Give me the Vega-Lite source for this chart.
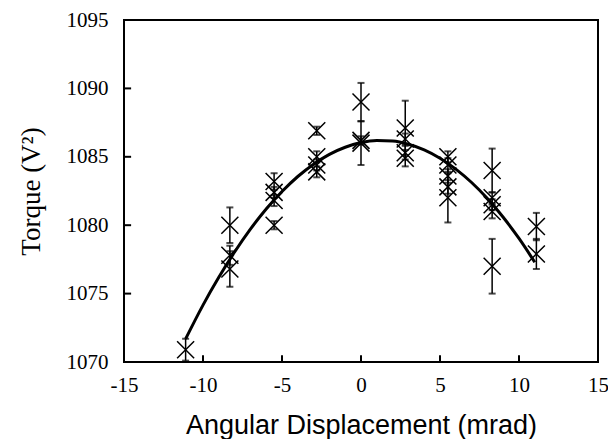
{
  "$schema": "https://vega.github.io/schema/vega-lite/v6.json",
  "width": 474,
  "height": 342,
  "autosize": {"type": "none"},
  "padding": {"left": 124, "top": 20, "right": 10, "bottom": 77},
  "background": "white",
  "config": {
    "view": {"stroke": "black", "strokeWidth": 2},
    "axis": {
      "domain": false,
      "grid": false,
      "ticks": false,
      "labelColor": "black",
      "titleColor": "black",
      "titleFontWeight": "normal"
    }
  },
  "datasets": {
    "pts": [
      {"x": -11.1, "torque": 1070.9, "err": 0.8},
      {"x": -8.3, "torque": 1080.0, "err": 1.3},
      {"x": -8.3, "torque": 1077.8, "err": 0.7},
      {"x": -8.3, "torque": 1076.8, "err": 1.3},
      {"x": -5.5, "torque": 1083.2, "err": 0.6},
      {"x": -5.5, "torque": 1082.4, "err": 0.4},
      {"x": -5.5, "torque": 1081.8, "err": 0.4},
      {"x": -5.5, "torque": 1080.0, "err": 0.3},
      {"x": -2.8, "torque": 1086.9, "err": 0.3},
      {"x": -2.8, "torque": 1085.0, "err": 0.4},
      {"x": -2.8, "torque": 1084.4, "err": 0.4},
      {"x": -2.8, "torque": 1083.9, "err": 0.4},
      {"x": 0, "torque": 1089.0, "err": 1.4},
      {"x": 0, "torque": 1086.2, "err": 0.3},
      {"x": 0, "torque": 1086.0, "err": 1.6},
      {"x": 2.8, "torque": 1087.1, "err": 2.0},
      {"x": 2.8, "torque": 1086.3, "err": 0.4},
      {"x": 2.8, "torque": 1085.3, "err": 0.5},
      {"x": 2.8, "torque": 1084.9, "err": 0.6},
      {"x": 5.5, "torque": 1085.0, "err": 0.4},
      {"x": 5.5, "torque": 1084.4, "err": 0.5},
      {"x": 5.5, "torque": 1083.6, "err": 0.5},
      {"x": 5.5, "torque": 1082.8, "err": 0.5},
      {"x": 5.5, "torque": 1082.0, "err": 1.8},
      {"x": 8.3, "torque": 1084.0, "err": 1.6},
      {"x": 8.3, "torque": 1082.0, "err": 0.4},
      {"x": 8.3, "torque": 1081.5, "err": 0.4},
      {"x": 8.3, "torque": 1081.0, "err": 0.5},
      {"x": 8.3, "torque": 1077.0, "err": 2.0},
      {"x": 11.1, "torque": 1079.9, "err": 1.0},
      {"x": 11.1, "torque": 1077.9, "err": 1.1}
    ],
    "fit": [
      {"x": -11.1, "torque": 1071.69},
      {"x": -10, "torque": 1074.16},
      {"x": -9, "torque": 1076.19},
      {"x": -8, "torque": 1078.04},
      {"x": -7, "torque": 1079.71},
      {"x": -6, "torque": 1081.18},
      {"x": -5, "torque": 1082.46},
      {"x": -4, "torque": 1083.56},
      {"x": -3, "torque": 1084.46},
      {"x": -2, "torque": 1085.18},
      {"x": -1, "torque": 1085.70},
      {"x": 0, "torque": 1086.04},
      {"x": 1, "torque": 1086.19},
      {"x": 2, "torque": 1086.15},
      {"x": 3, "torque": 1085.92},
      {"x": 4, "torque": 1085.51},
      {"x": 5, "torque": 1084.90},
      {"x": 6, "torque": 1084.10},
      {"x": 7, "torque": 1083.12},
      {"x": 8, "torque": 1081.95},
      {"x": 9, "torque": 1080.58},
      {"x": 10, "torque": 1079.03},
      {"x": 11, "torque": 1077.29}
    ],
    "xticks": [{"x": -10}, {"x": -5}, {"x": 0}, {"x": 5}, {"x": 10}],
    "yticks": [{"torque": 1075}, {"torque": 1080}, {"torque": 1085}, {"torque": 1090}]
  },
  "layer": [
    {
      "data": {"name": "fit"},
      "mark": {"type": "line", "color": "black", "strokeWidth": 3, "interpolate": "monotone"},
      "encoding": {
        "x": {
          "field": "x",
          "type": "quantitative",
          "title": "Angular Displacement (mrad)",
          "scale": {"domain": [-15, 15], "nice": false},
          "axis": {
            "values": [-15, -10, -5, 0, 5, 10, 15],
            "labelExpr": "'' + datum.value",
            "labelFont": "Liberation Serif",
            "labelFontSize": 21,
            "labelPadding": 12,
            "labelFlush": false,
            "titleFont": "Liberation Sans",
            "titleFontSize": 27,
            "titlePadding": 17
          }
        },
        "y": {
          "field": "torque",
          "type": "quantitative",
          "title": "Torque (V²)",
          "scale": {"domain": [1070, 1095], "nice": false, "zero": false},
          "axis": {
            "values": [1070, 1075, 1080, 1085, 1090, 1095],
            "labelExpr": "'' + datum.value",
            "labelFont": "Liberation Serif",
            "labelFontSize": 21,
            "labelPadding": 16,
            "labelFlush": false,
            "titleFont": "Liberation Serif",
            "titleFontSize": 27,
            "titlePadding": 21
          }
        }
      }
    },
    {
      "data": {"name": "xticks"},
      "mark": {"type": "rule", "strokeWidth": 2, "color": "black"},
      "encoding": {
        "x": {"field": "x", "type": "quantitative", "title": "Angular Displacement (mrad)"},
        "y": {"datum": 1070, "type": "quantitative", "title": "Torque (V²)"},
        "y2": {"datum": 1070.5}
      }
    },
    {
      "data": {"name": "yticks"},
      "mark": {"type": "rule", "strokeWidth": 2, "color": "black"},
      "encoding": {
        "x": {"datum": -15, "type": "quantitative", "title": "Angular Displacement (mrad)"},
        "x2": {"datum": -14.55},
        "y": {"field": "torque", "type": "quantitative", "title": "Torque (V²)"}
      }
    },
    {
      "data": {"name": "pts"},
      "mark": {
        "type": "errorbar",
        "color": "black",
        "ticks": {"size": 7, "thickness": 2, "color": "black"},
        "rule": {"strokeWidth": 1.5, "color": "black"}
      },
      "encoding": {
        "x": {"field": "x", "type": "quantitative", "title": "Angular Displacement (mrad)"},
        "y": {"field": "torque", "type": "quantitative", "title": "Torque (V²)"},
        "yError": {"field": "err"}
      }
    },
    {
      "data": {"name": "pts"},
      "mark": {
        "type": "point",
        "shape": "M-1,-1L1,1M1,-1L-1,1",
        "size": 289,
        "filled": false,
        "stroke": "black",
        "strokeWidth": 1.5,
        "opacity": 1
      },
      "encoding": {
        "x": {"field": "x", "type": "quantitative", "title": "Angular Displacement (mrad)"},
        "y": {"field": "torque", "type": "quantitative", "title": "Torque (V²)"}
      }
    }
  ]
}
